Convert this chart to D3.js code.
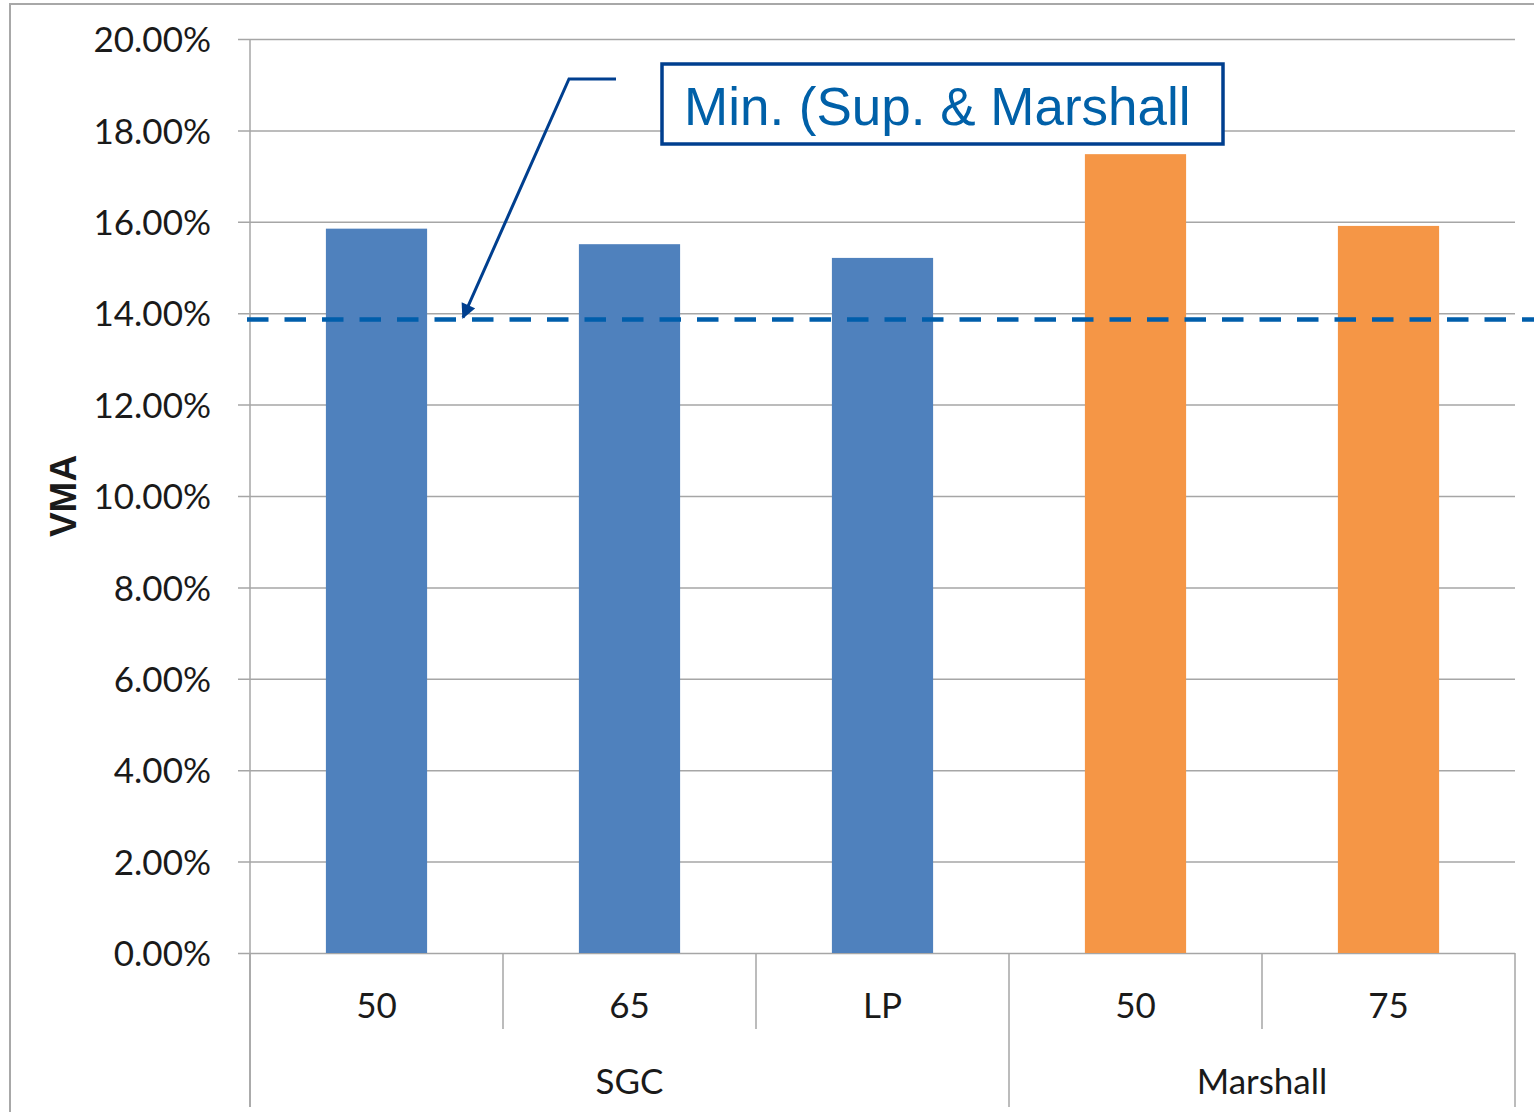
<!DOCTYPE html>
<html>
<head>
<meta charset="utf-8">
<script src="https://cdn.jsdelivr.net/npm/d3@7"></script>
<style>
  html, body { margin: 0; padding: 0; background: #fff; }
  svg { display: block; }
</style>
</head>
<body>
<svg id="chart" width="1534" height="1112"></svg>
<script>
// VMA by compaction method / level
const categories = ["50", "65", "LP", "50", "75"];
const groups = ["SGC", "SGC", "SGC", "Marshall", "Marshall"];
const groupNames = ["SGC", "Marshall"];
const vmaValues = [15.85, 15.51, 15.21, 17.48, 15.91];   // percent
const minVma = 13.86;                                     // percent, specification minimum
const yTicks = [0, 2, 4, 6, 8, 10, 12, 14, 16, 18, 20];
const calloutText = "Min. (Sup. & Marshall";

const colors = { SGC: "#4f81bd", Marshall: "#f59646" };
const gridColor = "#a6a6a6";
const labelFont = "Lato, 'Open Sans', sans-serif";

const svg = d3.select("#chart");
const plot = { left: 250, right: 1515, top: 39, bottom: 953 };

// outer chart frame
svg.append("rect")
  .attr("x", 10).attr("y", 4)
  .attr("width", 1540).attr("height", 1120)
  .attr("fill", "#fff").attr("stroke", "#a8a8a8").attr("stroke-width", 2);

const x = d3.scaleBand()
  .domain(d3.range(categories.length))
  .range([plot.left, plot.right])
  .paddingInner(0).paddingOuter(0);

const y = d3.scaleLinear().domain([0, 20]).range([plot.bottom, plot.top]);

// y axis with gridlines
const yAxis = d3.axisLeft(y)
  .tickValues(yTicks)
  .tickSize(-(plot.right - plot.left))
  .tickPadding(0)
  .tickFormat(d => d3.format(".2f")(d) + "%");

const gy = svg.append("g").attr("transform", `translate(${plot.left},0)`).call(yAxis);
gy.select(".domain").remove();
gy.selectAll(".tick line").attr("stroke", gridColor).attr("stroke-width", 1.5)
  .attr("x1", -12);
gy.selectAll(".tick text")
  .attr("x", -39)
  .attr("dy", "0.36em")
  .attr("fill", "#1a1a1a")
  .style("font-family", labelFont)
  .style("font-size", "35px");

// vertical axis line
svg.append("line")
  .attr("x1", plot.left).attr("x2", plot.left)
  .attr("y1", plot.top).attr("y2", 1107)
  .attr("stroke", gridColor).attr("stroke-width", 1.5);

// y axis title
svg.append("text")
  .attr("transform", `translate(76,${(plot.top + plot.bottom) / 2}) rotate(-90)`)
  .attr("text-anchor", "middle")
  .style("font-family", "'Liberation Sans', Arial, sans-serif")
  .style("font-weight", "bold")
  .style("font-size", "37px")
  .attr("fill", "#1a1a1a")
  .text("VMA");

// bars
const barW = x.bandwidth() * 0.4;
svg.append("g").selectAll("rect")
  .data(vmaValues)
  .join("rect")
  .attr("x", (d, i) => x(i) + (x.bandwidth() - barW) / 2)
  .attr("y", d => y(d))
  .attr("width", barW)
  .attr("height", d => y(0) - y(d))
  .attr("fill", (d, i) => colors[groups[i]]);

// category separators on the x axis
const gx = svg.append("g");
d3.range(categories.length + 1).forEach(i => {
  const xp = i < categories.length ? x(i) : plot.right;
  const isGroupEdge = i === 0 || i === categories.length || groups[i] !== groups[i - 1];
  gx.append("line")
    .attr("x1", xp).attr("x2", xp)
    .attr("y1", plot.bottom).attr("y2", isGroupEdge ? 1107 : 1029)
    .attr("stroke", gridColor).attr("stroke-width", 1.5);
});

// category labels
gx.selectAll("text.cat")
  .data(categories)
  .join("text")
  .attr("class", "cat")
  .attr("x", (d, i) => x(i) + x.bandwidth() / 2)
  .attr("y", 1018)
  .attr("text-anchor", "middle")
  .attr("fill", "#1a1a1a")
  .style("font-family", labelFont)
  .style("font-size", "35px")
  .text(d => d);

// group labels
groupNames.forEach(g => {
  const idx = groups.map((v, i) => v === g ? i : -1).filter(i => i >= 0);
  const x0 = x(idx[0]);
  const x1 = x(idx[idx.length - 1]) + x.bandwidth();
  gx.append("text")
    .attr("x", (x0 + x1) / 2)
    .attr("y", 1094)
    .attr("text-anchor", "middle")
    .attr("fill", "#1a1a1a")
    .style("font-family", labelFont)
    .style("font-size", "35px")
    .text(g);
});

// minimum VMA reference line
svg.append("line")
  .attr("x1", 247).attr("x2", 1534)
  .attr("y1", y(minVma)).attr("y2", y(minVma))
  .attr("stroke", "#005eab")
  .attr("stroke-width", 4.5)
  .attr("stroke-dasharray", "21.5,16");

// callout arrow
const defs = svg.append("defs");
defs.append("marker")
  .attr("id", "arrowhead")
  .attr("viewBox", "0 0 10 10")
  .attr("refX", 9).attr("refY", 5)
  .attr("markerWidth", 5.5).attr("markerHeight", 5)
  .attr("markerUnits", "strokeWidth")
  .attr("orient", "auto")
  .append("path")
  .attr("d", "M0,0 L10,5 L0,10 Z")
  .attr("fill", "#003f8f");

svg.append("path")
  .attr("d", `M616,79 L569,79 L${463},${y(minVma) - 2}`)
  .attr("fill", "none")
  .attr("stroke", "#003f8f")
  .attr("stroke-width", 3)
  .attr("marker-end", "url(#arrowhead)");

// callout box
svg.append("rect")
  .attr("x", 662).attr("y", 64)
  .attr("width", 561).attr("height", 80)
  .attr("fill", "#fff")
  .attr("stroke", "#003f8f")
  .attr("stroke-width", 3.5);

svg.append("text")
  .attr("x", 684).attr("y", 125)
  .attr("fill", "#0060a8")
  .style("font-family", "'Liberation Sans', Arial, sans-serif")
  .style("font-size", "53px")
  .text(calloutText);
</script>
</body>
</html>
